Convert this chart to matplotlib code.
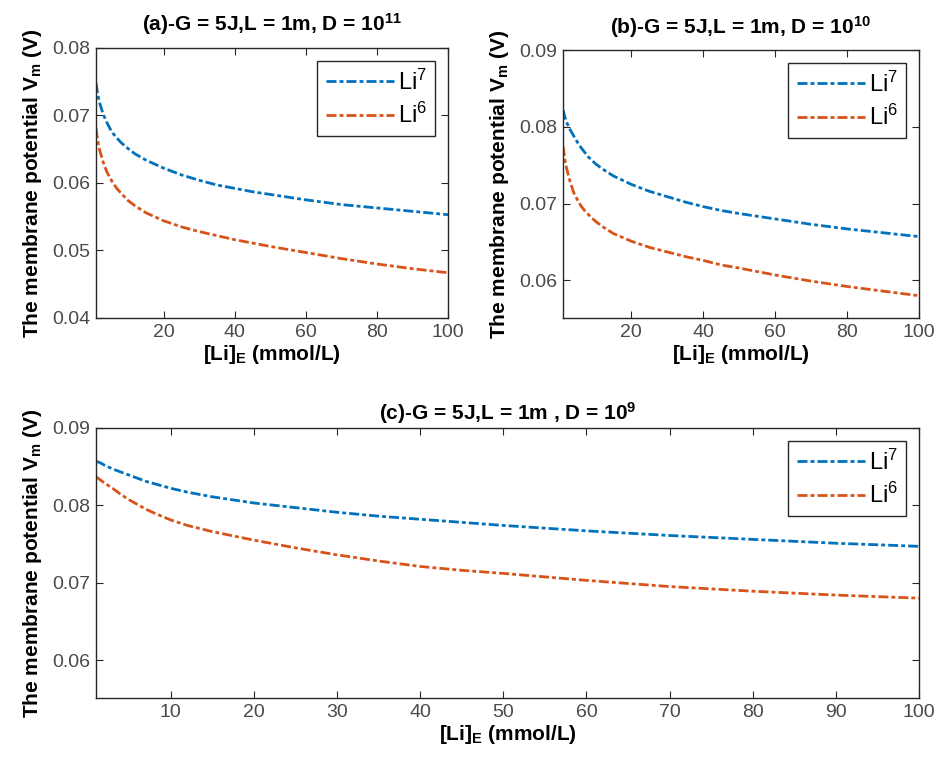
import matplotlib
matplotlib.use("Agg")
import matplotlib.pyplot as plt

plt.rcParams["font.family"] = ["Liberation Sans", "DejaVu Sans"]
plt.rcParams["mathtext.fontset"] = "custom"
plt.rcParams["mathtext.rm"] = "Liberation Sans"
plt.rcParams["mathtext.it"] = "Liberation Sans:italic"
plt.rcParams["mathtext.bf"] = "Liberation Sans:bold"

# [Li]_E valores (mmol/L)
li_e = [1, 1.5, 2, 3, 4, 5, 6, 7, 8, 10, 12, 15, 20, 25, 30, 35, 40, 45,
        50, 60, 70, 80, 90, 100]

# (a) D = 10^11
a_li7 = [0.0748, 0.0731, 0.0719, 0.0702, 0.0690, 0.0680, 0.0672, 0.0666,
         0.0660, 0.0651, 0.0643, 0.0634, 0.0622, 0.0612, 0.0604, 0.0597,
         0.0592, 0.0587, 0.0583, 0.0575, 0.0568, 0.0563, 0.0558, 0.0553]
a_li6 = [0.0681, 0.0662, 0.0649, 0.0631, 0.0617, 0.0607, 0.0598, 0.0591,
         0.0585, 0.0574, 0.0566, 0.0556, 0.0544, 0.0535, 0.0528, 0.0522,
         0.0516, 0.0511, 0.0506, 0.0497, 0.0488, 0.0480, 0.0473, 0.0467]

# (b) D = 10^10
b_li7 = [0.0822, 0.0813, 0.0806, 0.0796, 0.0788, 0.0780, 0.0773, 0.0767,
         0.0761, 0.0752, 0.0745, 0.0736, 0.0725, 0.0716, 0.0709, 0.0702,
         0.0696, 0.0691, 0.0687, 0.0680, 0.0673, 0.0667, 0.0662, 0.0657]
b_li6 = [0.0775, 0.0758, 0.0746, 0.0728, 0.0714, 0.0705, 0.0697, 0.0691,
         0.0686, 0.0677, 0.0670, 0.0661, 0.0651, 0.0643, 0.0637, 0.0631,
         0.0626, 0.0620, 0.0616, 0.0607, 0.0599, 0.0592, 0.0586, 0.0580]

# (c) D = 10^9
c_li7 = [0.0857, 0.0855, 0.0852, 0.0847, 0.0843, 0.0839, 0.0835, 0.0831,
         0.0828, 0.0822, 0.0817, 0.0811, 0.0803, 0.0797, 0.0791, 0.0786,
         0.0782, 0.0778, 0.0774, 0.0767, 0.0761, 0.0756, 0.0751, 0.0747]
c_li6 = [0.0837, 0.0833, 0.0829, 0.0822, 0.0814, 0.0807, 0.0801, 0.0795,
         0.0790, 0.0781, 0.0774, 0.0766, 0.0755, 0.0745, 0.0736, 0.0728,
         0.0721, 0.0716, 0.0712, 0.0703, 0.0695, 0.0689, 0.0684, 0.0680]

titles = [r"(a)-G = 5J,L = 1m, D = $\mathbf{10^{11}}$",
          r"(b)-G = 5J,L = 1m, D = $\mathbf{10^{10}}$",
          r"(c)-G = 5J,L = 1m , D = $\mathbf{10^{9}}$"]
ylims = [(0.04, 0.08), (0.0551, 0.09), (0.0551, 0.09)]
yticks = [[0.04, 0.05, 0.06, 0.07, 0.08], [0.06, 0.07, 0.08, 0.09],
          [0.06, 0.07, 0.08, 0.09]]
xticks = [[20, 40, 60, 80, 100], [20, 40, 60, 80, 100],
          [10, 20, 30, 40, 50, 60, 70, 80, 90, 100]]
title_pads = [12, 12, 6]

BLUE, ORANGE = "#0072BD", "#D95319"
DASHDOT = (0, (3.6, 1.1, 1.4, 1.1))
INK = "#262626"

fig = plt.figure(figsize=(9.44, 7.6), dpi=100)
axes = [fig.add_axes([0.1017, 0.5816, 0.3729, 0.3553]),
        fig.add_axes([0.5964, 0.5816, 0.3771, 0.3526]),
        fig.add_axes([0.1017, 0.0816, 0.8718, 0.3553])]
series = [(a_li7, a_li6), (b_li7, b_li6), (c_li7, c_li6)]

for i, ax in enumerate(axes):
    li7, li6 = series[i]
    ax.plot(li_e, li7, color=BLUE, lw=2, ls=DASHDOT, label=r"Li$^7$")
    ax.plot(li_e, li6, color=ORANGE, lw=2, ls=DASHDOT, label=r"Li$^6$")
    ax.set_xlim(1, 100)
    ax.set_ylim(*ylims[i])
    ax.set_xticks(xticks[i])
    ax.set_yticks(yticks[i])
    ax.set_yticklabels([f"{v:.2f}" for v in yticks[i]])
    ax.tick_params(direction="in", top=True, right=True, length=5,
                   width=0.8, labelsize=14, colors=INK, labelcolor="#4a4a4a",
                   pad=4)
    for s in ax.spines.values():
        s.set_color(INK)
        s.set_linewidth(1.0)
    ax.set_title(titles[i], fontsize=15, fontweight="bold", pad=title_pads[i])
    ax.set_xlabel(r"[Li]$_\mathbf{E}$ (mmol/L)", fontsize=15,
                  fontweight="bold", labelpad=2)
    ax.set_ylabel(r"The membrane potential $\mathbf{V_m}$ (V)", fontsize=15,
                  fontweight="bold", labelpad=6)
    leg = ax.legend(loc="upper right", fontsize=17, handlelength=2.9,
                    borderaxespad=0.55, fancybox=False, framealpha=1,
                    borderpad=0.35, labelspacing=0.35, handletextpad=0.15)
    leg.get_frame().set_edgecolor(INK)
    leg.get_frame().set_linewidth(1.0)

fig.savefig("out.png", dpi=100)
